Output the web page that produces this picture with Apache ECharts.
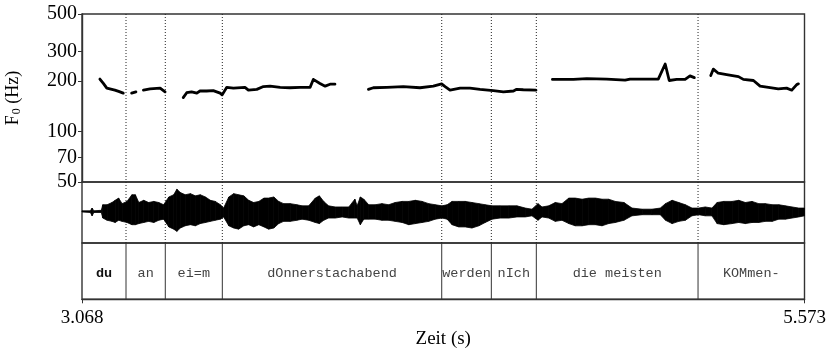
<!DOCTYPE html>
<html>
<head>
<meta charset="utf-8">
<script src="https://cdn.jsdelivr.net/npm/echarts@6/dist/echarts.min.js"></script>
<style>
  html, body { margin: 0; padding: 0; background: #fff; }
  #chart { width: 827px; height: 348px; }
</style>
</head>
<body>
<div id="chart"></div>
<script>
// Time range of the excerpt (s)
const timeRange = [3.068, 5.573];
const timeTicks = [3.068, 5.573];

// Pitch track: null marks an unvoiced gap
const f0Times = [
  3.130, 3.142, 3.154, 3.182, 3.195, 3.211, null,
  3.240, 3.255, null,
  3.281, 3.304, 3.339, 3.356, null,
  3.419, 3.431, 3.448, 3.466, 3.477, 3.500, 3.523, 3.547, 3.554, 3.570, 3.593, 3.633, 3.645,
  3.674, 3.697, 3.720, 3.755, 3.789, 3.824, 3.859, 3.870, 3.893, 3.911, 3.928, 3.945, null,
  4.061, 4.078, 4.125, 4.182, 4.240, 4.286, 4.315, 4.327, 4.344, 4.379, 4.413, 4.448, 4.494,
  4.529, 4.564, 4.575, 4.598, 4.642, null,
  4.699, 4.772, 4.818, 4.887, 4.951, 4.968, 5.066, 5.090, 5.104, 5.130, 5.159, 5.176, 5.191, null,
  5.248, 5.257, 5.274, 5.303, 5.344, 5.361, 5.396, 5.419, 5.448, 5.482, 5.511, 5.529, 5.546, 5.552
];
const f0Hz = [
  205, 193, 181, 176, 173, 169, null,
  169, 172, null,
  176, 179, 181, 172, null,
  159, 170, 172, 169, 174, 174, 175, 169, 165, 183, 181, 183, 176,
  178, 185, 186, 183, 182, 183, 183, 204, 193, 186, 191, 191, null,
  178, 182, 183, 185, 182, 186, 192, 185, 176, 181, 181, 178, 175,
  172, 174, 178, 177, 176, null,
  204, 204, 206, 205, 202, 205, 205, 252, 201, 204, 204, 214, 209, null,
  215, 235, 222, 218, 212, 204, 201, 186, 183, 179, 181, 176, 190, 192
];
const freqTicks = [50, 70, 100, 200, 300, 500];

// Oscillogram envelope (positive and negative peaks)
const waveTimes = [
  3.068, 3.097, 3.103, 3.109, 3.135, 3.140, 3.155, 3.172, 3.183, 3.195, 3.207, 3.224, 3.241, 3.253,
  3.265, 3.282, 3.299, 3.317, 3.334, 3.351, 3.369, 3.386, 3.397, 3.409, 3.426, 3.444, 3.461, 3.478,
  3.496, 3.513, 3.530, 3.548, 3.559, 3.577, 3.594, 3.611, 3.629, 3.646, 3.663, 3.681, 3.699, 3.715,
  3.733, 3.750, 3.767, 3.790, 3.813, 3.831, 3.854, 3.877, 3.891, 3.906, 3.923, 3.946, 3.970, 3.993,
  4.014, 4.022, 4.033, 4.045, 4.062, 4.085, 4.108, 4.131, 4.154, 4.178, 4.201, 4.224, 4.247, 4.270,
  4.293, 4.316, 4.334, 4.351, 4.374, 4.397, 4.420, 4.444, 4.466, 4.490, 4.518, 4.548, 4.576, 4.605,
  4.628, 4.649, 4.663, 4.686, 4.709, 4.732, 4.756, 4.778, 4.802, 4.825, 4.848, 4.871, 4.894, 4.917,
  4.947, 4.975, 5.010, 5.044, 5.073, 5.091, 5.114, 5.137, 5.160, 5.183, 5.206, 5.229, 5.252, 5.270,
  5.293, 5.322, 5.345, 5.368, 5.391, 5.414, 5.437, 5.461, 5.484, 5.507, 5.530, 5.553, 5.573
];
const wavePos = [
  0.5, 0.5, 3, 0.5, 1, 6, 6, 8, 10, 12, 7, 9, 15, 15,
  8, 10, 8, 9, 8, 6, 13, 15, 20, 17, 15, 16, 14, 15,
  13, 10, 9, 6, 3, 13, 16, 15, 14, 10, 8, 9, 12, 12,
  13, 9, 7, 7, 6, 5, 5, 12, 14, 9, 5, 4, 4, 4,
  11, 5, 13, 11, 6, 6, 7, 6, 8, 9, 9, 10, 9, 7,
  6, 5, 6, 9, 9, 9, 8, 7, 6, 5, 5, 5, 5, 3,
  2, 7, 4, 5, 8, 7, 12, 12, 11, 12, 12, 11, 11, 9,
  8, 3, 2, 2, 3, 7, 10, 8, 6, 3, 3, 4, 3, 8,
  9, 9, 10, 8, 9, 7, 7, 6, 6, 5, 4, 3, 3
];
const waveNeg = [
  -0.5, -1, -4, -1, -1, -6, -8, -9, -10, -8, -9, -10, -12, -12,
  -11, -10, -9, -10, -8, -7, -14, -16, -18, -15, -13, -12, -13, -11,
  -10, -9, -8, -7, -5, -13, -15, -16, -13, -12, -14, -12, -14, -16,
  -15, -11, -9, -9, -8, -7, -8, -10, -11, -8, -6, -6, -5, -6,
  -6, -6, -12, -7, -7, -7, -8, -8, -9, -10, -12, -11, -10, -9,
  -7, -6, -7, -12, -14, -14, -15, -13, -10, -7, -6, -6, -5, -5,
  -4, -8, -5, -6, -9, -8, -11, -13, -13, -12, -12, -13, -11, -10,
  -8, -4, -3, -3, -3, -8, -11, -9, -8, -4, -3, -4, -4, -11,
  -12, -11, -10, -11, -10, -10, -9, -9, -7, -7, -6, -5, -4
];

// Word tier: labels and interval boundaries (s)
const wordLabels = ['du', 'an', 'ei=m', 'dOnnerstachabend', 'werden', 'nIch', 'die meisten', 'KOMmen-'];
const wordBounds = [3.068, 3.2206, 3.3568, 3.5545, 4.3152, 4.4872, 4.6432, 5.2039, 5.573];

const SERIF = '"Liberation Serif", "Times New Roman", serif';
const MONO = '"Liberation Mono", "Courier New", monospace';
const FRAME = '#333';

// Split the pitch track into voiced stretches
const f0Segments = [];
let cur = [];
f0Times.forEach((t, i) => {
  if (t === null || f0Hz[i] === null) {
    if (cur.length) f0Segments.push(cur);
    cur = [];
  } else {
    cur.push([t, f0Hz[i]]);
  }
});
if (cur.length) f0Segments.push(cur);

// Envelope quads between consecutive samples
const waveData = [];
for (let i = 0; i < waveTimes.length - 1; i++) {
  waveData.push([waveTimes[i], wavePos[i], waveNeg[i], waveTimes[i + 1], wavePos[i + 1], waveNeg[i + 1]]);
}

const innerBounds = wordBounds.slice(1, -1);
const intervals = wordLabels.map((w, i) => [wordBounds[i], wordBounds[i + 1], i]);

function dottedBoundary(params, api) {
  const cs = params.coordSys;
  const x = api.coord([api.value(0), api.value(1)])[0];
  return {
    type: 'line',
    shape: { x1: x, y1: cs.y, x2: x, y2: cs.y + cs.height },
    style: { stroke: '#222', lineWidth: 1, lineDash: [1, 2] }
  };
}

const chart = echarts.init(document.getElementById('chart'), null, { renderer: 'canvas' });

const gridBase = {
  left: 82, width: 722.5, show: true, borderColor: FRAME, borderWidth: 1.4,
  backgroundColor: 'transparent', containLabel: false, outerBoundsMode: 'none'
};

const hiddenX = (gi) => ({
  type: 'value', gridIndex: gi, min: timeRange[0], max: timeRange[1],
  show: false, splitLine: { show: false }
});

const series = [];

// Segment boundaries (dotted) in pitch and oscillogram panels
series.push({
  type: 'custom', xAxisIndex: 0, yAxisIndex: 0, z: 1,
  data: innerBounds.map(b => [b, 100]),
  encode: { x: 0, y: 1 },
  renderItem: dottedBoundary, silent: true
});
series.push({
  type: 'custom', xAxisIndex: 1, yAxisIndex: 1, z: 1,
  data: innerBounds.map(b => [b, 0]),
  encode: { x: 0, y: 1 },
  renderItem: dottedBoundary, silent: true
});

// Pitch contour
f0Segments.forEach(seg => {
  series.push({
    type: 'line', xAxisIndex: 0, yAxisIndex: 0, z: 3,
    data: seg, showSymbol: false, symbol: 'none', smooth: false,
    lineStyle: { color: '#000', width: 2.8, cap: 'round', join: 'round' },
    silent: true
  });
});

// Oscillogram
series.push({
  type: 'custom', xAxisIndex: 1, yAxisIndex: 1, z: 2,
  data: waveData,
  encode: { x: [0, 3], y: [1, 2, 4, 5] },
  renderItem(params, api) {
    const a = api.coord([api.value(0), api.value(1)]);
    const b = api.coord([api.value(3), api.value(4)]);
    const c = api.coord([api.value(3), api.value(5)]);
    const d = api.coord([api.value(0), api.value(2)]);
    return {
      type: 'polygon',
      shape: { points: [a, b, c, d] },
      style: { fill: '#000', stroke: '#000', lineWidth: 0.8 }
    };
  },
  silent: true
});

// Word tier
series.push({
  type: 'custom', xAxisIndex: 2, yAxisIndex: 2, z: 2,
  data: intervals,
  encode: { x: [0, 1] },
  renderItem(params, api) {
    const i = api.value(2);
    const s = api.coord([api.value(0), 0]);
    const e = api.coord([api.value(1), 1]);
    const cx = (s[0] + e[0]) / 2;
    const cy = (s[1] + e[1]) / 2 + 2.5;
    const bold = i === 0;
    const children = [{
      type: 'text',
      style: {
        text: wordLabels[i], x: cx, y: cy, align: 'center', verticalAlign: 'middle',
        font: (bold ? 'bold ' : '') + '13.5px ' + MONO,
        fill: bold ? '#111' : '#444'
      }
    }];
    if (i < wordLabels.length - 1) {
      children.push({
        type: 'line',
        shape: { x1: e[0], y1: s[1], x2: e[0], y2: e[1] },
        style: { stroke: FRAME, lineWidth: 1 }
      });
    }
    return { type: 'group', children };
  },
  silent: true
});

chart.setOption({
  animation: false,
  backgroundColor: '#fff',
  grid: [
    Object.assign({ top: 14, height: 168 }, gridBase),
    Object.assign({ top: 182, height: 61 }, gridBase),
    Object.assign({ top: 243, height: 56.3 }, gridBase)
  ],
  xAxis: [
    hiddenX(0),
    hiddenX(1),
    {
      type: 'value', gridIndex: 2, min: timeRange[0], max: timeRange[1],
      axisLine: { show: true, lineStyle: { color: FRAME, width: 1.4 } },
      axisTick: { show: true, length: 4, customValues: timeTicks, lineStyle: { color: FRAME, width: 1 } },
      axisLabel: {
        customValues: timeTicks, formatter: v => v.toFixed(3),
        fontFamily: SERIF, fontSize: 19, color: '#000', margin: 9
      },
      splitLine: { show: false },
      name: 'Zeit (s)', nameLocation: 'middle', nameGap: 30,
      nameTextStyle: { fontFamily: SERIF, fontSize: 19, color: '#000' }
    }
  ],
  yAxis: [
    {
      type: 'log', logBase: 10, gridIndex: 0, min: 50, max: 500,
      axisLine: { show: true, lineStyle: { color: FRAME, width: 1.4 } },
      axisTick: { show: true, length: 4, customValues: freqTicks, lineStyle: { color: FRAME, width: 1 } },
      axisLabel: { customValues: freqTicks, fontFamily: SERIF, fontSize: 20, color: '#000', margin: 5 },
      splitLine: { show: false },
      name: '{f|F}{s|0}{f| (Hz)}', nameLocation: 'middle', nameRotate: 90, nameGap: 59,
      nameTextStyle: {
        color: '#000',
        rich: {
          f: { fontFamily: SERIF, fontSize: 18, color: '#000' },
          s: { fontFamily: SERIF, fontSize: 12, color: '#000', padding: [8, 0, 0, 1] }
        }
      }
    },
    { type: 'value', gridIndex: 1, min: -28.5, max: 26.5, show: false, splitLine: { show: false } },
    { type: 'value', gridIndex: 2, min: 0, max: 1, show: false, splitLine: { show: false } }
  ],
  series
});
</script>
</body>
</html>
